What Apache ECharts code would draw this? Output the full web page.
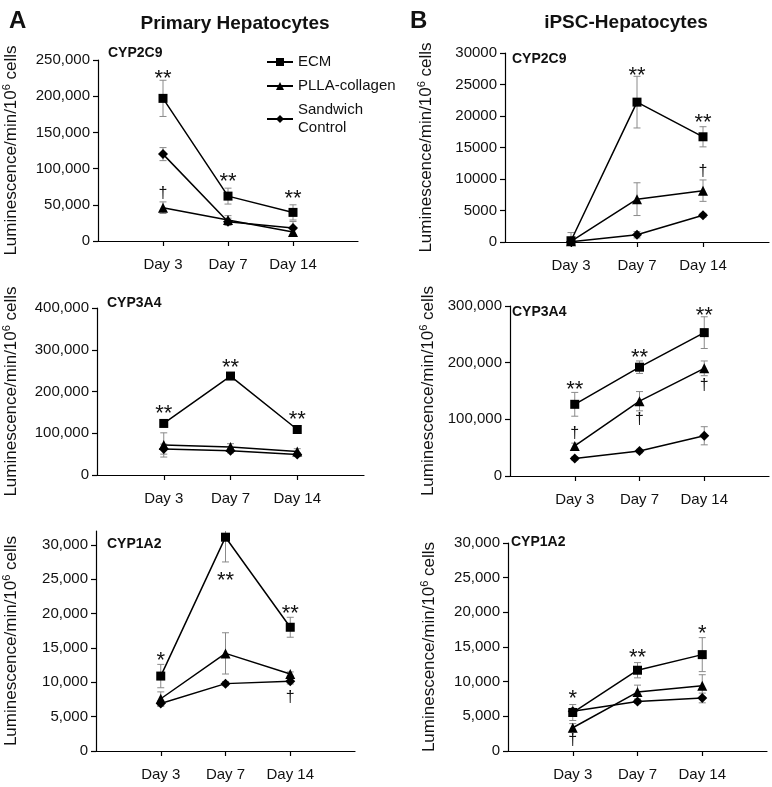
<!DOCTYPE html>
<html>
<head>
<meta charset="utf-8">
<script src="https://cdn.jsdelivr.net/npm/echarts/dist/echarts.min.js"></script>
<style>
html,body{margin:0;padding:0;background:#fff;}
#chart{width:772px;height:787px;}
</style>
</head>
<body>
<div id="chart"></div>
<script>
// ---------- DATA ----------
const days = ['Day 3', 'Day 7', 'Day 14'];
const seriesNames = ['ECM', 'PLLA-collagen', 'Sandwich Control'];
const panelTitles = ['CYP2C9', 'CYP2C9', 'CYP3A4', 'CYP3A4', 'CYP1A2', 'CYP1A2'];
const columnTitles = ['Primary Hepatocytes', 'iPSC-Hepatocytes'];
const panelLetters = ['A', 'B'];

// Primary hepatocytes CYP2C9
const pri2c9Ecm = [197000, 62000, 39500];
const pri2c9EcmErr = [25000, 11000, 10500];
const pri2c9Plla = [46000, 29000, 12500];
const pri2c9PllaErr = [8000, 6000, 4000];
const pri2c9Sand = [120000, 26500, 18000];
const pri2c9SandErr = [9000, 5000, 9000];

// iPSC hepatocytes CYP2C9
const ips2c9Ecm = [200, 22200, 16700];
const ips2c9EcmErr = [1300, 4100, 1600];
const ips2c9Plla = [100, 6800, 8150];
const ips2c9PllaErr = [300, 2600, 1700];
const ips2c9Sand = [50, 1150, 4250];
const ips2c9SandErr = [200, 500, 300];

// Primary hepatocytes CYP3A4
const pri3a4Ecm = [123500, 237000, 109000];
const pri3a4EcmErr = [3000, 4000, 3000];
const pri3a4Plla = [72000, 67000, 56000];
const pri3a4PllaErr = [29000, 8000, 7000];
const pri3a4Sand = [62000, 58000, 49000];
const pri3a4SandErr = [12000, 5000, 5000];

// iPSC hepatocytes CYP3A4
const ips3a4Ecm = [126500, 192000, 253000];
const ips3a4EcmErr = [21000, 11000, 28000];
const ips3a4Plla = [53000, 132000, 190000];
const ips3a4PllaErr = [5000, 17000, 13000];
const ips3a4Sand = [31000, 44000, 71000];
const ips3a4SandErr = [3000, 3000, 16000];

// Primary hepatocytes CYP1A2
const pri1a2Ecm = [10900, 31100, 18000];
const pri1a2EcmErr = [1700, 3600, 1450];
const pri1a2Plla = [7600, 14200, 11200];
const pri1a2PllaErr = [1000, 3000, 300];
const pri1a2Sand = [6900, 9800, 10150];
const pri1a2SandErr = [400, 300, 400];

// iPSC hepatocytes CYP1A2
const ips1a2Ecm = [5550, 11650, 13900];
const ips1a2EcmErr = [1150, 1100, 2450];
const ips1a2Plla = [3350, 8500, 9400];
const ips1a2PllaErr = [600, 1000, 1600];
const ips1a2Sand = [5750, 7150, 7650];
const ips1a2SandErr = [400, 300, 700];

// Y-axis ticks per panel
const ticksPri2c9 = [0, 50000, 100000, 150000, 200000, 250000];
const ticksIps2c9 = [0, 5000, 10000, 15000, 20000, 25000, 30000];
const ticksPri3a4 = [0, 100000, 200000, 300000, 400000];
const ticksIps3a4 = [0, 100000, 200000, 300000];
const ticksPri1a2 = [0, 5000, 10000, 15000, 20000, 25000, 30000];
const ticksIps1a2 = [0, 5000, 10000, 15000, 20000, 25000, 30000];

// Significance marks: [day, y value, mark]
const annPri2c9 = [['Day 3', 231800, '**'], ['Day 7', 89400, '**'], ['Day 14', 65900, '**'], ['Day 3', 65900, '†']];
const annIps2c9 = [['Day 7', 27350, '**'], ['Day 14', 19890, '**'], ['Day 14', 11160, '†']];
const annPri3a4 = [['Day 3', 160300, '**'], ['Day 7', 270300, '**'], ['Day 14', 145900, '**']];
const annIps3a4 = [['Day 3', 162000, '**'], ['Day 7', 218300, '**'], ['Day 14', 292300, '**'],
                   ['Day 3', 75700, '†'], ['Day 7', 100400, '†'], ['Day 14', 160200, '†']];
const annPri1a2 = [['Day 3', 13900, '*'], ['Day 7', 25540, '**'], ['Day 14', 20740, '**'], ['Day 14', 7800, '†']];
const annIps1a2 = [['Day 3', 8350, '*'], ['Day 7', 14280, '**'], ['Day 14', 17750, '*'], ['Day 3', 1550, '†']];

// ---------- LAYOUT / STYLE ----------
const FONT = '"Liberation Sans", Arial, Helvetica, sans-serif';
const TXT = '#111';
const ERRC = '#8a8a8a';

const panels = [
  { grid: {left: 96, top: 60, width: 262, height: 181}, max: 250000, interval: 50000, ticks: ticksPri2c9, comma: true,
    vals: [pri2c9Ecm, pri2c9Plla, pri2c9Sand], errs: [pri2c9EcmErr, pri2c9PllaErr, pri2c9SandErr], ann: annPri2c9,
    nameGap: 77, title: {left: 108, top: 46} },
  { grid: {left: 505, top: 53, width: 264, height: 189}, max: 30000, interval: 5000, ticks: ticksIps2c9, comma: false,
    vals: [ips2c9Ecm, ips2c9Plla, ips2c9Sand], errs: [ips2c9EcmErr, ips2c9PllaErr, ips2c9SandErr], ann: annIps2c9,
    nameGap: 69, title: {left: 512, top: 52} },
  { grid: {left: 96, top: 308, width: 268, height: 167}, max: 400000, interval: 100000, ticks: ticksPri3a4, comma: true,
    vals: [pri3a4Ecm, pri3a4Plla, pri3a4Sand], errs: [pri3a4EcmErr, pri3a4PllaErr, pri3a4SandErr], ann: annPri3a4,
    nameGap: 76, title: {left: 107, top: 296} },
  { grid: {left: 510, top: 306, width: 259, height: 170}, max: 300000, interval: 100000, ticks: ticksIps3a4, comma: true,
    vals: [ips3a4Ecm, ips3a4Plla, ips3a4Sand], errs: [ips3a4EcmErr, ips3a4PllaErr, ips3a4SandErr], ann: annIps3a4,
    nameGap: 72, title: {left: 512, top: 305} },
  { grid: {left: 95, top: 531, width: 260, height: 220}, max: 32000, interval: 5000, ticks: ticksPri1a2, comma: true,
    vals: [pri1a2Ecm, pri1a2Plla, pri1a2Sand], errs: [pri1a2EcmErr, pri1a2PllaErr, pri1a2SandErr], ann: annPri1a2,
    nameGap: 75, title: {left: 107, top: 537} },
  { grid: {left: 508, top: 543, width: 259, height: 208}, max: 30000, interval: 5000, ticks: ticksIps1a2, comma: true,
    vals: [ips1a2Ecm, ips1a2Plla, ips1a2Sand], errs: [ips1a2EcmErr, ips1a2PllaErr, ips1a2SandErr], ann: annIps1a2,
    nameGap: 69, title: {left: 511, top: 535} }
];

const symbols = ['rect', 'triangle', 'diamond'];
const symbolSizes = [9, 10, 10];
const xCats = [''].concat(days, ['']);

function fmt(v, comma) {
  return comma ? v.toLocaleString('en-US') : String(v);
}

function makeErrRender(maxV) {
  return function (params, api) {
    const x = api.value(0), m = api.value(1), e = api.value(2);
    const hiV = m + e;
    const top = api.coord([x, Math.min(hiV, maxV)]);
    const bot = api.coord([x, Math.max(m - e, 0)]);
    const hw = 3.5;
    const st = {stroke: ERRC, lineWidth: 1};
    const ch = [
      {type: 'line', shape: {x1: top[0], y1: top[1], x2: bot[0], y2: bot[1]}, style: st},
      {type: 'line', shape: {x1: bot[0] - hw, y1: bot[1], x2: bot[0] + hw, y2: bot[1]}, style: st}
    ];
    if (hiV <= maxV) {
      ch.push({type: 'line', shape: {x1: top[0] - hw, y1: top[1], x2: top[0] + hw, y2: top[1]}, style: st});
    }
    return {type: 'group', children: ch};
  };
}

function makeAnnRender(list) {
  return function (params, api) {
    const p = api.coord([api.value(0), api.value(1)]);
    const t = list[params.dataIndex][2];
    const isStar = t.indexOf('*') >= 0;
    const fs = isStar ? 22 : 16;
    return {type: 'text', x: p[0], y: p[1] + (isStar ? 0.27 * fs : 0),
      style: {text: t, textAlign: 'center', textVerticalAlign: 'middle',
        font: 'normal ' + fs + 'px ' + FONT, fill: TXT}};
  };
}

const grids = [], xAxes = [], yAxes = [], series = [];
panels.forEach((p, i) => {
  grids.push(Object.assign({containLabel: false}, p.grid));
  xAxes.push({
    type: 'category', gridIndex: i, data: xCats, boundaryGap: false,
    axisLine: {lineStyle: {color: '#000', width: 1.2}},
    axisTick: {show: true, length: 5, inside: false, interval: (idx) => idx > 0 && idx < xCats.length - 1,
      lineStyle: {color: '#000', width: 1.2}},
    axisLabel: {interval: 0, color: TXT, fontSize: 15, fontFamily: FONT, margin: 16},
    splitLine: {show: false}
  });
  yAxes.push({
    type: 'value', gridIndex: i, min: 0, max: p.max, interval: p.interval,
    axisLine: {show: true, lineStyle: {color: '#000', width: 1.2}},
    axisTick: {show: true, length: 5, inside: false, customValues: p.ticks, lineStyle: {color: '#000', width: 1.2}},
    axisLabel: {customValues: p.ticks, color: TXT, fontSize: 15, fontFamily: FONT, margin: 8,
      formatter: (v) => fmt(v, p.comma)},
    splitLine: {show: false},
    name: 'Luminescence/min/10{sup|6} cells', nameLocation: 'middle', nameGap: p.nameGap,
    nameTextStyle: {color: TXT, fontSize: 17, fontFamily: FONT,
      rich: {sup: {fontSize: 11, fontFamily: FONT, color: TXT, verticalAlign: 'bottom', padding: [0, 0, 9, 0]}}}
  });
  // error bars (behind)
  for (let s = 2; s >= 0; s--) {
    series.push({
      type: 'custom', xAxisIndex: i, yAxisIndex: i, z: 2, silent: true,
      renderItem: makeErrRender(p.max),
      data: days.map((d, j) => [d, p.vals[s][j], p.errs[s][j]])
    });
  }
  // lines (Sandwich first so ECM sits on top)
  for (let s = 2; s >= 0; s--) {
    series.push({
      type: 'line', name: seriesNames[s], xAxisIndex: i, yAxisIndex: i, z: 5,
      symbol: symbols[s], symbolSize: symbolSizes[s], showSymbol: true,
      lineStyle: {color: '#000', width: 1.5}, itemStyle: {color: '#000'},
      emphasis: {disabled: true},
      data: days.map((d, j) => [d, p.vals[s][j]])
    });
  }
  series.push({
    type: 'custom', xAxisIndex: i, yAxisIndex: i, z: 6, silent: true,
    renderItem: makeAnnRender(p.ann),
    data: p.ann.map(a => [a[0], a[1]])
  });
});

const titles = [
  {text: panelLetters[0], left: 4, top: 4, textStyle: {fontSize: 24, fontWeight: 'bold', color: TXT, fontFamily: FONT}},
  {text: panelLetters[1], left: 405, top: 4, textStyle: {fontSize: 24, fontWeight: 'bold', color: TXT, fontFamily: FONT}},
  {text: columnTitles[0], left: 230, top: 9, textAlign: 'center', textStyle: {fontSize: 19, fontWeight: 'bold', color: TXT, fontFamily: FONT}},
  {text: columnTitles[1], left: 621, top: 8, textAlign: 'center', textStyle: {fontSize: 19, fontWeight: 'bold', color: TXT, fontFamily: FONT}}
];
panels.forEach((p, i) => {
  titles.push({text: panelTitles[i], left: p.title.left, top: p.title.top, padding: 0,
    textStyle: {fontSize: 14, fontWeight: 'bold', color: TXT, fontFamily: FONT}});
});

const option = {
  animation: false,
  backgroundColor: '#fff',
  title: titles,
  legend: {
    data: seriesNames, orient: 'vertical', left: 266, top: 53, padding: 0,
    itemWidth: 26, itemHeight: 10, itemGap: 6, selectedMode: false,
    textStyle: {fontSize: 15, color: TXT, fontFamily: FONT, lineHeight: 18},
    formatter: (n) => n === 'Sandwich Control' ? 'Sandwich\nControl' : n
  },
  grid: grids, xAxis: xAxes, yAxis: yAxes, series: series
};

const chart = echarts.init(document.getElementById('chart'), null, {renderer: 'canvas'});
chart.setOption(option);
</script>
</body>
</html>
